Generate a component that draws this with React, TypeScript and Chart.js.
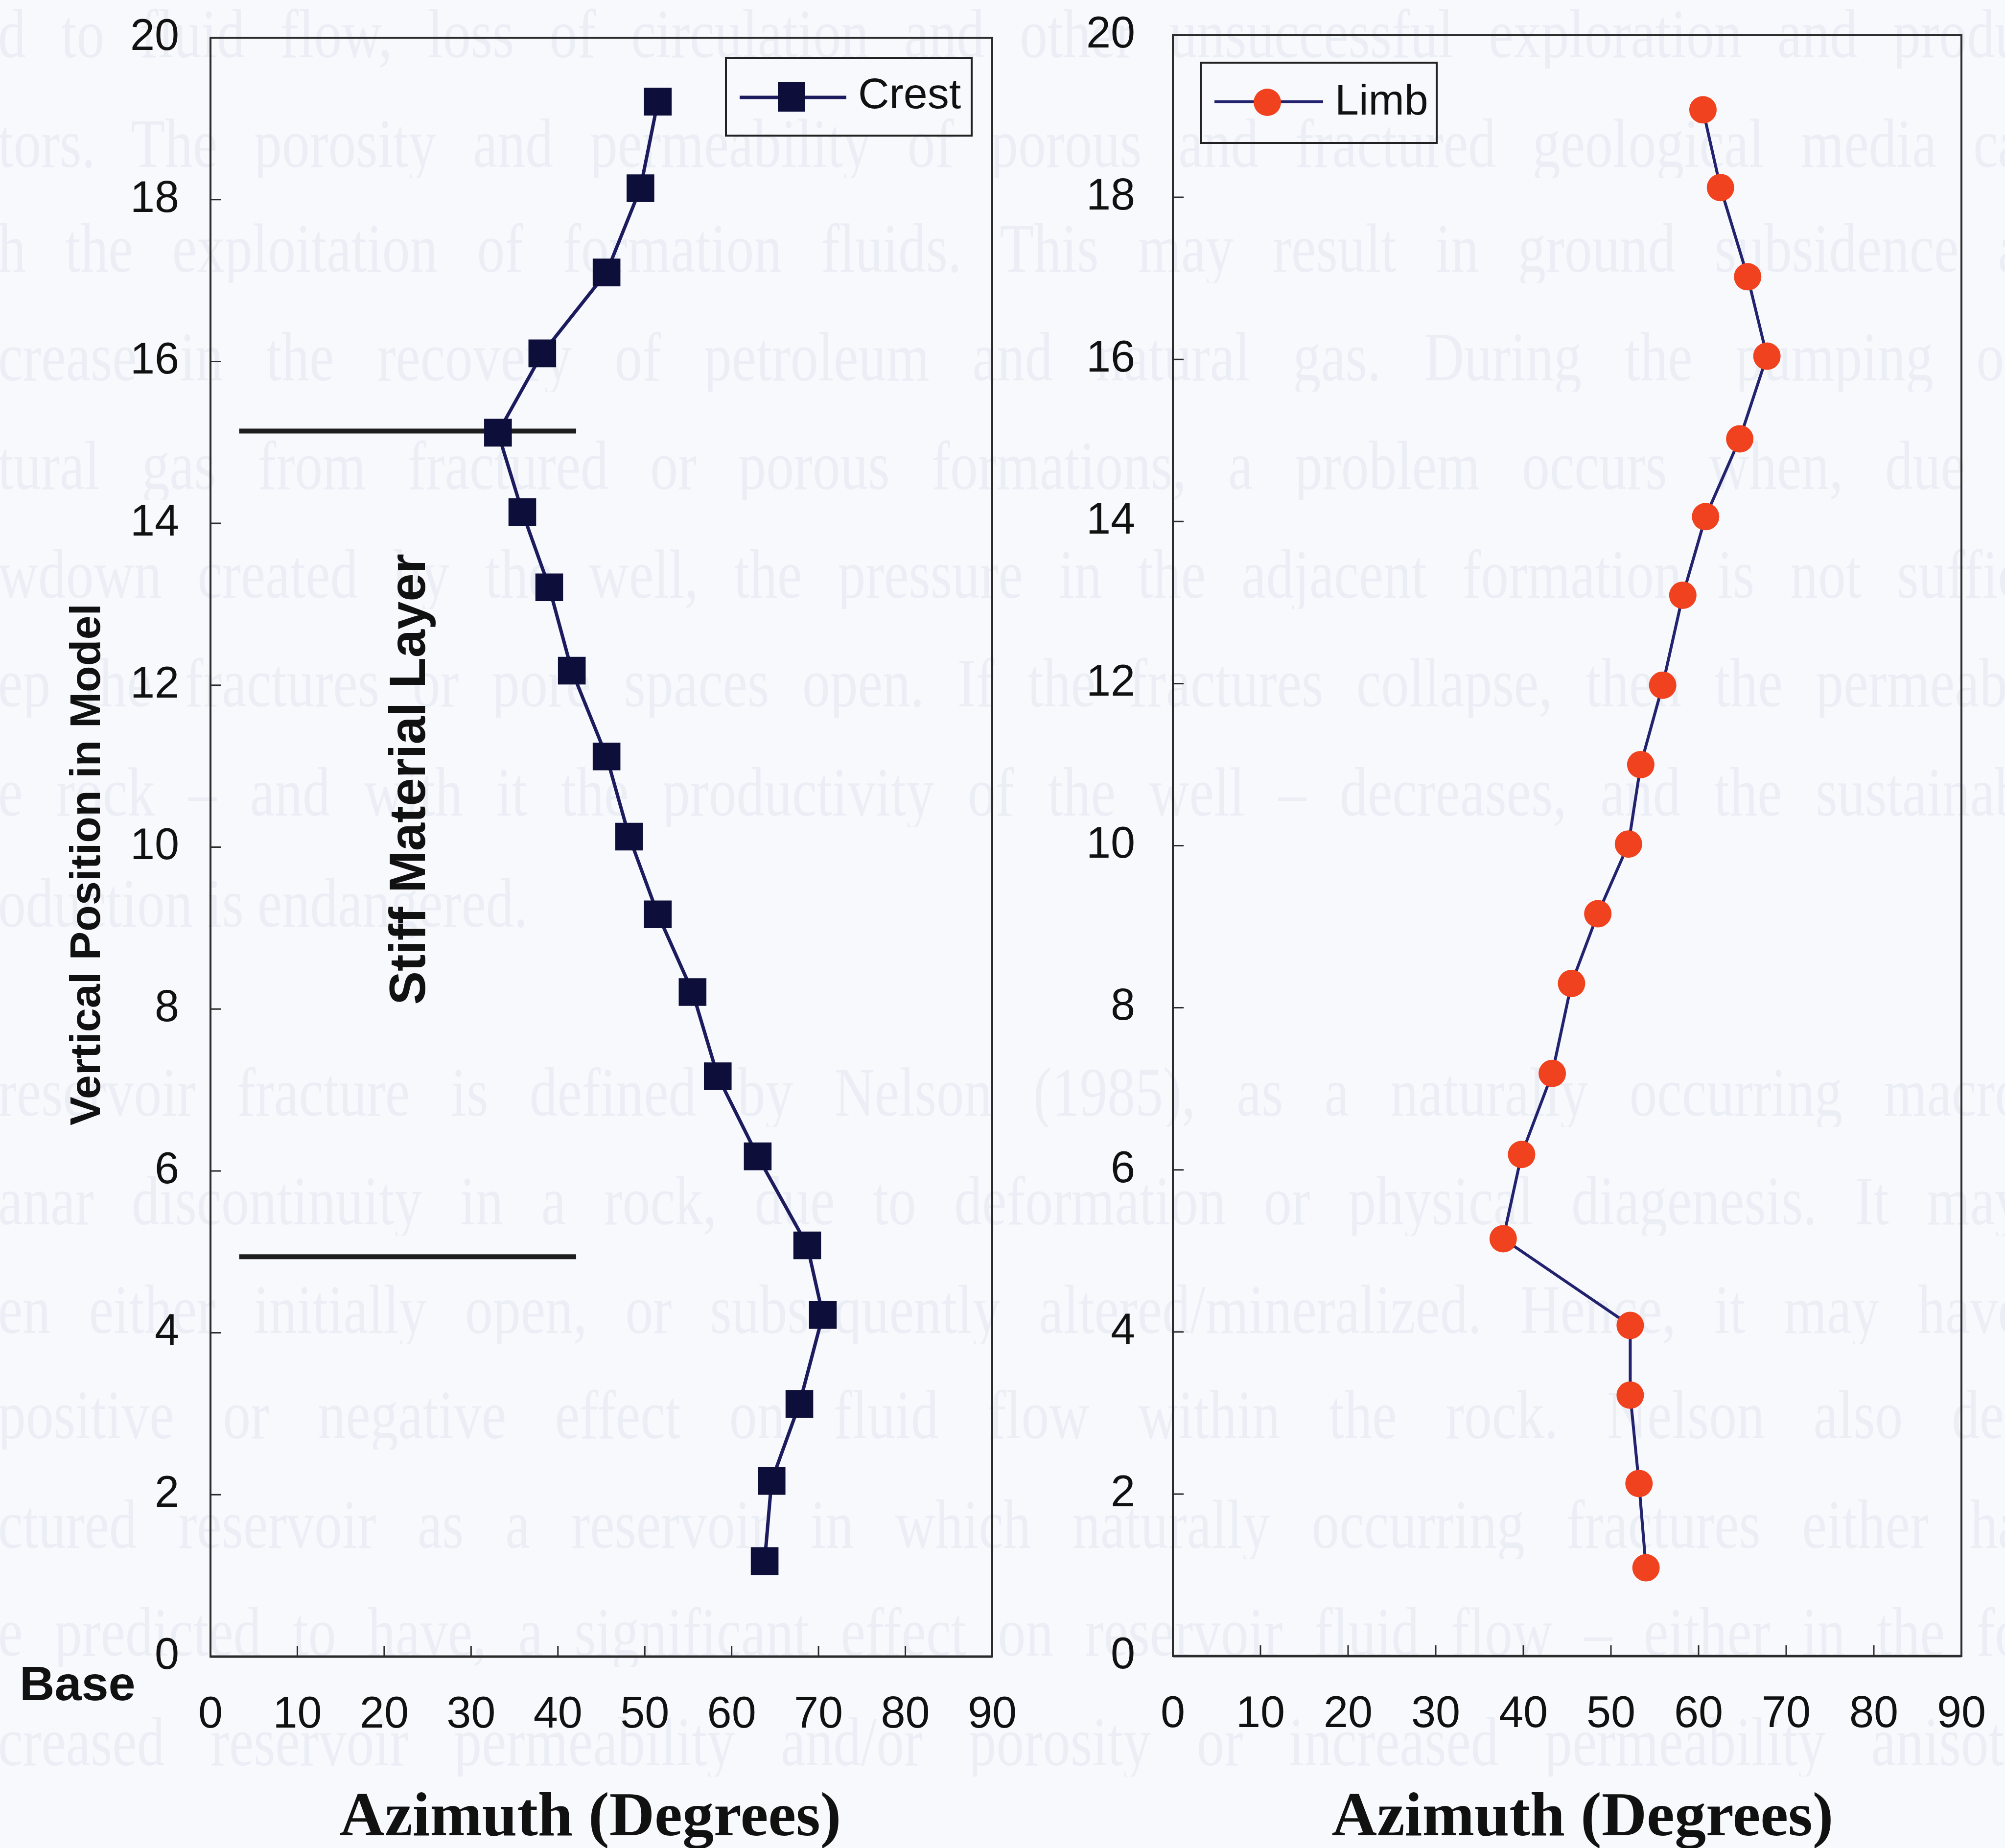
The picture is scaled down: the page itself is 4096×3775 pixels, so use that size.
import React, { useEffect, useRef } from "react";
import { Chart, registerables } from "chart.js";

Chart.register(...registerables);

// ---------- data ----------
const crestAzimuth = [51.5, 49.5, 45.6, 38.2, 33.1, 35.9, 39.0, 41.6, 45.6, 48.2, 51.5, 55.5, 58.4, 63.0, 68.7, 70.5, 67.8, 64.6, 63.8];
const crestPosition = [19.21, 18.14, 17.1, 16.1, 15.12, 14.14, 13.21, 12.18, 11.12, 10.13, 9.17, 8.21, 7.17, 6.18, 5.08, 4.22, 3.12, 2.17, 1.18];
const limbAzimuth = [60.5, 62.5, 65.6, 67.8, 64.7, 60.8, 58.2, 55.9, 53.4, 52.0, 48.5, 45.5, 43.3, 39.8, 37.7, 52.2, 52.2, 53.2, 54.0];
const limbPosition = [19.08, 18.12, 17.02, 16.04, 15.02, 14.06, 13.09, 11.98, 11.0, 10.02, 9.16, 8.3, 7.19, 6.19, 5.15, 4.08, 3.22, 2.13, 1.09];
const stiffLayerBounds = [15.14, 4.94];
const stiffLayerAzimuthRange = [3.3, 42.1];
const azimuthTicks = [0, 10, 20, 30, 40, 50, 60, 70, 80, 90];
const positionTicks = [0, 2, 4, 6, 8, 10, 12, 14, 16, 18, 20];

const seriesNames = ["Crest", "Limb"];
const axisTitleX = "Azimuth (Degrees)";
const axisTitleY = "Vertical Position in Model";
const layerLabel = "Stiff Material Layer";
const baseLabel = "Base";

const backgroundTextLines = [
  "d to fluid flow, loss of circulation and other unsuccessful exploration and produ",
  "tors. The porosity and permeability of porous and fractured geological media ca",
  "h the exploitation of formation fluids. This may result in ground subsidence a",
  "crease in the recovery of petroleum and natural gas. During the pumping of",
  "tural gas from fractured or porous formations, a problem occurs when, due t",
  "wdown created by the well, the pressure in the adjacent formation is not suffic",
  "ep the fractures or pore spaces open. If the fractures collapse, then the permeabi",
  "e rock \u2013 and with it the productivity of the well \u2013 decreases, and the sustainab",
  "oduction is endangered.",
  "reservoir fracture is defined by Nelson (1985), as a naturally occurring macro",
  "anar discontinuity in a rock, due to deformation or physical diagenesis. It may",
  "en either initially open, or subsequently altered/mineralized. Hence, it may have",
  "positive or negative effect on fluid flow within the rock. Nelson also def",
  "ctured reservoir as a reservoir in which naturally occurring fractures either ha",
  "e predicted to have, a significant effect on reservoir fluid flow \u2013 either in the fo",
  "creased reservoir permeability and/or porosity or increased permeability anisotr",
];
const backgroundTextCenters = [84, 308, 522, 744, 966, 1188, 1410, 1633, 1860, 2246, 2468, 2690, 2905, 3129, 3349, 3573];

// ---------- layout ----------
const W = 4096;
const H = 3775;
const SANS = '"Liberation Sans", Arial, sans-serif';
const SERIF = '"Liberation Serif", "Times New Roman", serif';
const BG_SCALE = 0.8;

type PanelSpec = {
  left: number;
  right: number;
  top: number;
  bottom: number;
  yPad: number;
  titleX: number;
  legend: {
    box: [number, number, number, number];
    lineY: number;
    lineX: [number, number];
    markerX: number;
    markerY: number;
    textX: number;
    textY: number;
    marker: "rect" | "circle";
    text: string;
    color: string;
    lineColor: string;
    lineWidth: number;
  };
  extraText: boolean;
};

function makeDecor(spec: PanelSpec) {
  return {
    id: "decor",
    beforeDatasetsDraw(chart: any) {
      const { ctx, chartArea: a, scales } = chart;
      ctx.save();
      ctx.strokeStyle = "#2c2c2c";
      ctx.lineWidth = 4;
      ctx.strokeRect(a.left, a.top, a.right - a.left, a.bottom - a.top);
      ctx.lineWidth = 5;
      ctx.beginPath();
      ctx.moveTo(a.left, a.bottom);
      ctx.lineTo(a.right, a.bottom);
      ctx.stroke();
      ctx.lineWidth = 3;
      ctx.beginPath();
      for (const t of azimuthTicks) {
        if (t <= 0 || t >= 90) continue;
        const px = scales.x.getPixelForValue(t);
        ctx.moveTo(px, a.bottom);
        ctx.lineTo(px, a.bottom - 22);
      }
      for (const t of positionTicks) {
        if (t <= 0 || t >= 20) continue;
        const py = scales.y.getPixelForValue(t);
        ctx.moveTo(a.left, py);
        ctx.lineTo(a.left + 22, py);
      }
      ctx.stroke();
      ctx.restore();
    },
    afterDraw(chart: any) {
      const { ctx } = chart;
      const lg = spec.legend;
      ctx.save();
      // legend
      ctx.strokeStyle = "#222";
      ctx.lineWidth = 4;
      ctx.strokeRect(lg.box[0], lg.box[1], lg.box[2], lg.box[3]);
      ctx.strokeStyle = lg.lineColor;
      ctx.lineWidth = lg.lineWidth;
      ctx.beginPath();
      ctx.moveTo(lg.lineX[0], lg.lineY);
      ctx.lineTo(lg.lineX[1], lg.lineY);
      ctx.stroke();
      ctx.fillStyle = lg.color;
      if (lg.marker === "rect") {
        ctx.fillRect(lg.markerX - 28, lg.markerY - 30, 56, 60);
      } else {
        ctx.beginPath();
        ctx.arc(lg.markerX, lg.markerY, 28, 0, Math.PI * 2);
        ctx.fill();
      }
      ctx.fillStyle = "#111";
      ctx.font = `88px ${SANS}`;
      ctx.textAlign = "left";
      ctx.textBaseline = "alphabetic";
      ctx.fillText(lg.text, lg.textX, lg.textY);

      // x-axis title
      ctx.font = `bold 128px ${SERIF}`;
      ctx.textAlign = "center";
      ctx.fillText(axisTitleX, spec.titleX, 3749);

      if (spec.extraText) {
        ctx.font = `bold 99px ${SANS}`;
        ctx.textAlign = "left";
        ctx.fillText(baseLabel, 40, 3473);

        ctx.save();
        ctx.translate(204, 1766);
        ctx.rotate(-Math.PI / 2);
        ctx.font = `bold 88px ${SANS}`;
        ctx.textAlign = "center";
        ctx.fillText(axisTitleY, 0, 0);
        ctx.restore();

        ctx.save();
        ctx.translate(868, 1592);
        ctx.rotate(-Math.PI / 2);
        ctx.font = `bold 103px ${SANS}`;
        ctx.textAlign = "center";
        ctx.fillText(layerLabel, 0, 0);
        ctx.restore();
      }
      ctx.restore();
    },
  };
}

function makeConfig(spec: PanelSpec, datasets: any[]) {
  const tickFont = { family: SANS, size: 90 };
  return {
    type: "scatter" as const,
    data: { datasets },
    options: {
      responsive: false,
      animation: false as const,
      events: [],
      layout: { autoPadding: false, padding: { top: spec.top, left: 0, right: W - spec.right, bottom: 0 } },
      plugins: { legend: { display: false }, tooltip: { enabled: false } },
      scales: {
        x: {
          type: "linear" as const,
          position: "bottom" as const,
          min: 0,
          max: 90,
          afterFit: (s: any) => {
            s.height = H - spec.bottom;
            s.paddingLeft = 0;
            s.paddingRight = 0;
            s.paddingTop = 0;
            s.paddingBottom = 0;
          },
          afterBuildTicks: (s: any) => {
            s.ticks = azimuthTicks.map((v) => ({ value: v }));
          },
          ticks: { font: tickFont, color: "#111", padding: 66, maxRotation: 0, autoSkip: false },
          grid: { display: false, drawTicks: false },
          border: { display: false },
        },
        y: {
          type: "linear" as const,
          min: 0,
          max: 20,
          afterFit: (s: any) => {
            s.width = spec.left;
            s.paddingTop = 0;
            s.paddingBottom = 0;
            s.paddingLeft = 0;
            s.paddingRight = 0;
          },
          afterBuildTicks: (s: any) => {
            s.ticks = positionTicks.map((v) => ({ value: v }));
          },
          ticks: { font: tickFont, color: "#111", padding: spec.yPad, autoSkip: false },
          grid: { display: false, drawTicks: false },
          border: { display: false },
        },
      },
    },
    plugins: [makeDecor(spec)],
  };
}

const leftSpec: PanelSpec = {
  left: 430,
  right: 2027,
  top: 77,
  bottom: 3384,
  yPad: 64,
  titleX: 1206,
  legend: {
    box: [1483, 118, 502, 159],
    lineY: 199,
    lineX: [1511, 1729],
    markerX: 1617,
    markerY: 198,
    textX: 1753,
    textY: 221,
    marker: "rect",
    text: seriesNames[0],
    color: "#0e0e3a",
    lineColor: "#1b1b5e",
    lineWidth: 7,
  },
  extraText: true,
};

const rightSpec: PanelSpec = {
  left: 2396,
  right: 4007,
  top: 72,
  bottom: 3383,
  yPad: 77,
  titleX: 3233,
  legend: {
    box: [2453, 128, 482, 164],
    lineY: 208,
    lineX: [2481, 2703],
    markerX: 2589,
    markerY: 209,
    textX: 2727,
    textY: 234,
    marker: "circle",
    text: seriesNames[1],
    color: "#f0421e",
    lineColor: "#22226e",
    lineWidth: 6,
  },
  extraText: false,
};

function zipPoints(xs: number[], ys: number[]) {
  return xs.map((x, i) => ({ x, y: ys[i] }));
}

export default function App() {
  const leftRef = useRef<HTMLCanvasElement | null>(null);
  const rightRef = useRef<HTMLCanvasElement | null>(null);

  useEffect(() => {
    const layerSets = stiffLayerBounds.map((yv) => ({
      label: "layer",
      data: stiffLayerAzimuthRange.map((x) => ({ x, y: yv })),
      showLine: true,
      borderColor: "#1e1e1e",
      borderWidth: 10,
      pointRadius: 0,
      order: 2,
    }));
    const left = new Chart(
      leftRef.current as HTMLCanvasElement,
      makeConfig(leftSpec, [
        {
          label: seriesNames[0],
          data: zipPoints(crestAzimuth, crestPosition),
          showLine: true,
          borderColor: "#1b1b5e",
          borderWidth: 7,
          pointStyle: "rect",
          pointRadius: 40,
          pointBackgroundColor: "#0e0e3a",
          pointBorderColor: "#0e0e3a",
          pointBorderWidth: 0,
          order: 1,
        },
        ...layerSets,
      ]) as any
    );
    const right = new Chart(
      rightRef.current as HTMLCanvasElement,
      makeConfig(rightSpec, [
        {
          label: seriesNames[1],
          data: zipPoints(limbAzimuth, limbPosition),
          showLine: true,
          borderColor: "#22226e",
          borderWidth: 6,
          pointStyle: "circle",
          pointRadius: 28,
          pointBackgroundColor: "#f0421e",
          pointBorderColor: "#f0421e",
          pointBorderWidth: 0,
          order: 1,
        },
      ]) as any
    );
    return () => {
      left.destroy();
      right.destroy();
    };
  }, []);

  return (
    <div
      style={{
        position: "absolute",
        left: 0,
        top: 0,
        width: W,
        height: H,
        overflow: "hidden",
        background: "#f8f9fd",
      }}
    >
      {backgroundTextLines.map((t, i) => (
        <div
          key={i}
          style={{
            position: "absolute",
            left: -4,
            top: backgroundTextCenters[i] - 86,
            width: i === 8 ? "auto" : (W + 40) / BG_SCALE,
            height: 142,
            lineHeight: "142px",
            overflow: "hidden",
            fontFamily: SERIF,
            fontSize: 142,
            color: "#eceef6",
            textAlign: "justify",
            textAlignLast: i === 8 ? "left" : "justify",
            whiteSpace: "normal",
            transform: `scaleX(${BG_SCALE})`,
            transformOrigin: "0 0",
          } as React.CSSProperties}
        >
          {t}
        </div>
      ))}
      <canvas
        ref={leftRef}
        width={W}
        height={H}
        style={{ position: "absolute", left: 0, top: 0, width: W, height: H }}
      />
      <canvas
        ref={rightRef}
        width={W}
        height={H}
        style={{ position: "absolute", left: 0, top: 0, width: W, height: H }}
      />
    </div>
  );
}
